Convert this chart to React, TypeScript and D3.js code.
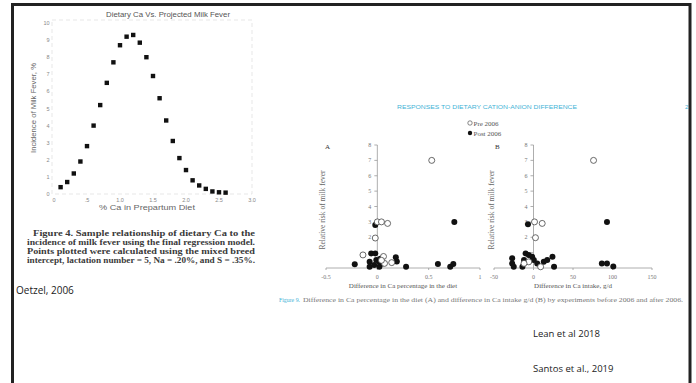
import React from "react";
import * as d3 from "d3";

// ---- Left figure (Oetzel, 2006) ----
const caPct = [0.1,0.2,0.3,0.4,0.5,0.6,0.7,0.8,0.9,1.0,1.1,1.2,1.3,1.4,1.5,1.6,1.7,1.8,1.9,2.0,2.1,2.2,2.3,2.4,2.5,2.6];
const incidence = [0.4,0.7,1.2,1.9,2.8,4.0,5.2,6.5,7.7,8.7,9.2,9.3,8.85,8.0,6.9,5.6,4.3,3.1,2.1,1.4,0.8,0.5,0.3,0.15,0.1,0.08];
const leftYTicks = [0,1,2,3,4,5,6,7,8,9,10];
const leftXTicks = [0,0.5,1,1.5,2,2.5,3];
const leftXTickLabels = ["0",".5","1.0","1.5","2.0","2.5","3.0"];
const leftCaption = [
  "Figure 4. Sample relationship of dietary Ca to the",
  "incidence of milk fever using the final regression model.",
  "Points plotted were calculated using the mixed breed",
  "intercept, lactation number = 5, Na = .20%, and S = .35%.",
];

// ---- Right figure (Lean et al 2018) ----
const aPreX = [0.53,0.0,0.04,0.1,-0.02,-0.14,0.06,0.07,0.14,0.04];
const aPreY = [7.0,3.0,3.0,2.9,1.95,0.85,0.75,0.3,0.35,0.5];
const aPostX = [-0.02,0.75,-0.22,-0.06,-0.02,-0.075,-0.01,0.02,0.02,-0.075,-0.03,0.03,0.05,0.18,0.19,0.28,0.59,0.71,0.74];
const aPostY = [2.8,3.0,0.24,0.95,0.95,0.4,0.52,0.4,0.08,0.08,0.2,0.6,0.3,0.7,0.43,0.08,0.26,0.08,0.26];
const bPreX = [76,1.3,11,2.5,-6,9,-12];
const bPreY = [7.0,3.0,2.9,1.97,0.4,0.08,0.3];
const bPostX = [-7,93,86.5,93,101,-27,-27,-25,-14,-12,-10,-6,-1.7,0.4,4.7,13,17.4,24,26];
const bPostY = [2.84,3.0,0.3,0.3,0.09,0.63,0.3,0.08,0.08,0.52,0.95,0.84,0.73,0.52,0.3,0.41,0.52,0.73,0.08];
const riskTicks = [1,2,3,4,5,6,7,8];
const aXTicks = [-0.5,0,0.5,1];
const bXTicks = [-50,0,50,100,150];

const SERIF = "'Liberation Serif', 'DejaVu Serif', serif";
const SANS = "'Liberation Sans', Arial, sans-serif";
const CAL = "'Open Sans', 'Noto Sans', sans-serif";
const CYAN = "#3fb3d6";

function Panel({ label, labelX, xScale, xTicks, xTitle, xs, ys, preX, preY, yTitleX }: any) {
  const y = d3.scaleLinear().domain([0, 8]).range([268, 145]);
  const x0 = xScale(0);
  const [r0, r1] = xScale.range();
  return (
    <g>
      <text x={labelX} y={149} fontFamily={SERIF} fontSize={7} fill="#333">{label}</text>
      <text transform={`translate(${yTitleX},210) rotate(-90)`} textAnchor="middle" fontFamily={SERIF} fontSize={7.5} fill="#666">Relative risk of milk fever</text>
      <line x1={x0} x2={x0} y1={y(8)} y2={y(0)} stroke="#999" strokeWidth={0.8} />
      {riskTicks.map((t) => (
        <g key={t}>
          <line x1={x0 - 3} x2={x0} y1={y(t)} y2={y(t)} stroke="#999" strokeWidth={0.8} />
          <text x={x0 - 6} y={y(t) + 2} textAnchor="end" fontFamily={SERIF} fontSize={6} fill="#777">{t}</text>
        </g>
      ))}
      <line x1={r0} x2={r1} y1={y(0)} y2={y(0)} stroke="#999" strokeWidth={0.8} />
      {xTicks.map((t: number) => (
        <g key={t}>
          <line x1={xScale(t)} x2={xScale(t)} y1={y(0)} y2={y(0) + 2} stroke="#999" strokeWidth={0.8} />
          <text x={xScale(t)} y={279} textAnchor="middle" fontFamily={SERIF} fontSize={6} fill="#777">{t}</text>
        </g>
      ))}
      <text x={(r0 + r1) / 2} y={287.5} textAnchor="middle" fontFamily={SERIF} fontSize={7} fill="#555">{xTitle}</text>
      {xs.map((v: number, i: number) => (
        <circle key={"f" + i} cx={xScale(v)} cy={y(ys[i])} r={3} fill="#111" />
      ))}
      {preX.map((v: number, i: number) => (
        <circle key={"o" + i} cx={xScale(v)} cy={y(preY[i])} r={3} fill="white" stroke="#444" strokeWidth={0.8} />
      ))}
    </g>
  );
}

export default function App() {
  const lx = d3.scaleLinear().domain([0, 3]).range([54, 252]);
  const ly = d3.scaleLinear().domain([0, 10]).range([194, 23]);
  const ax = d3.scaleLinear().domain([-0.5, 1]).range([326, 480]);
  const bx = d3.scaleLinear().domain([-50, 150]).range([494, 652]);
  return (
    <svg width={696} height={383} style={{ position: "absolute", left: 0, top: 0, background: "white" }}>
      <rect x={0} y={0} width={696} height={383} fill="white" />
      {/* left figure */}
      <rect x={52} y={20} width={200} height={174} fill="none" stroke="#ddd" strokeWidth={0.7} strokeDasharray="4,3" />
      <text x={168} y={16.5} textAnchor="middle" fontFamily={SANS} fontSize={7} fill="#555" textLength={124} lengthAdjust="spacingAndGlyphs">Dietary Ca Vs. Projected Milk Fever</text>
      {leftYTicks.map((t) => (
        <text key={t} x={49.5} y={ly(t) + 2} textAnchor="end" fontFamily={SANS} fontSize={5.5} fill="#888">{t}</text>
      ))}
      {leftXTicks.map((t, i) => (
        <text key={t} x={lx(t)} y={201.5} textAnchor="middle" fontFamily={SANS} fontSize={5.5} fill="#888">{leftXTickLabels[i]}</text>
      ))}
      <text x={147} y={209.5} textAnchor="middle" fontFamily={SANS} fontSize={7} fill="#666" textLength={96} lengthAdjust="spacingAndGlyphs">% Ca in Prepartum Diet</text>
      <text transform="translate(35.5,108) rotate(-90)" textAnchor="middle" fontFamily={SANS} fontSize={7} fill="#666" textLength={90} lengthAdjust="spacingAndGlyphs">Incidence of Milk Fever, %</text>
      {caPct.map((v, i) => (
        <rect key={i} x={lx(v) - 2.2} y={ly(incidence[i]) - 2.2} width={4.4} height={4.4} fill="#111" />
      ))}
      {leftCaption.map((line, i) => (
        <text key={i} x={i === 0 ? 33 : 27} y={236 + i * 9} fontFamily={SERIF} fontSize={8.5} fontWeight="bold" fill="#3a3a3a" textLength={i === 0 ? 222 : 228} lengthAdjust="spacingAndGlyphs">{line}</text>
      ))}
      <text x={16} y={294} fontFamily={CAL} fontSize={10} fill="#222">Oetzel, 2006</text>

      {/* right figure */}
      <text x={397} y={109} fontFamily={SANS} fontSize={6} fill={CYAN} textLength={180} lengthAdjust="spacingAndGlyphs">RESPONSES TO DIETARY CATION-ANION DIFFERENCE</text>
      <text x={685} y={109} fontFamily={SANS} fontSize={6} fill={CYAN}>2</text>
      <circle cx={470} cy={123} r={2.2} fill="white" stroke="#555" strokeWidth={0.7} />
      <text x={473.5} y={125.5} fontFamily={SERIF} fontSize={7} fill="#555">Pre 2006</text>
      <circle cx={470} cy={133} r={2.2} fill="#111" />
      <text x={473.5} y={135.5} fontFamily={SERIF} fontSize={7} fill="#555">Post 2006</text>
      <Panel label="A" labelX={325} xScale={ax} xTicks={aXTicks} xTitle="Difference in Ca percentage in the diet" xs={aPostX} ys={aPostY} preX={aPreX} preY={aPreY} yTitleX={325} />
      <Panel label="B" labelX={495} xScale={bx} xTicks={bXTicks} xTitle="Difference in Ca intake, g/d" xs={bPostX} ys={bPostY} preX={bPreX} preY={bPreY} yTitleX={494} />
      <text x={279} y={301.5} fontFamily={SERIF} fontSize={5.5} fill={CYAN} textLength={21} lengthAdjust="spacingAndGlyphs">Figure 9.</text>
      <text x={303} y={301.5} fontFamily={SERIF} fontSize={5.5} fill="#777" textLength={380} lengthAdjust="spacingAndGlyphs">Difference in Ca percentage in the diet (A) and difference in Ca intake g/d (B) by experiments before 2006 and after 2006.</text>
      <text x={533} y={337} fontFamily={CAL} fontSize={9.5} fill="#222">Lean et al 2018</text>
      <text x={533} y={372} fontFamily={CAL} fontSize={9.5} fill="#222">Santos et al., 2019</text>

      {/* slide frame */}
      <rect x={12.5} y={4.5} width={677.5} height={400} fill="none" stroke="#222" strokeWidth={3} />
    </svg>
  );
}
